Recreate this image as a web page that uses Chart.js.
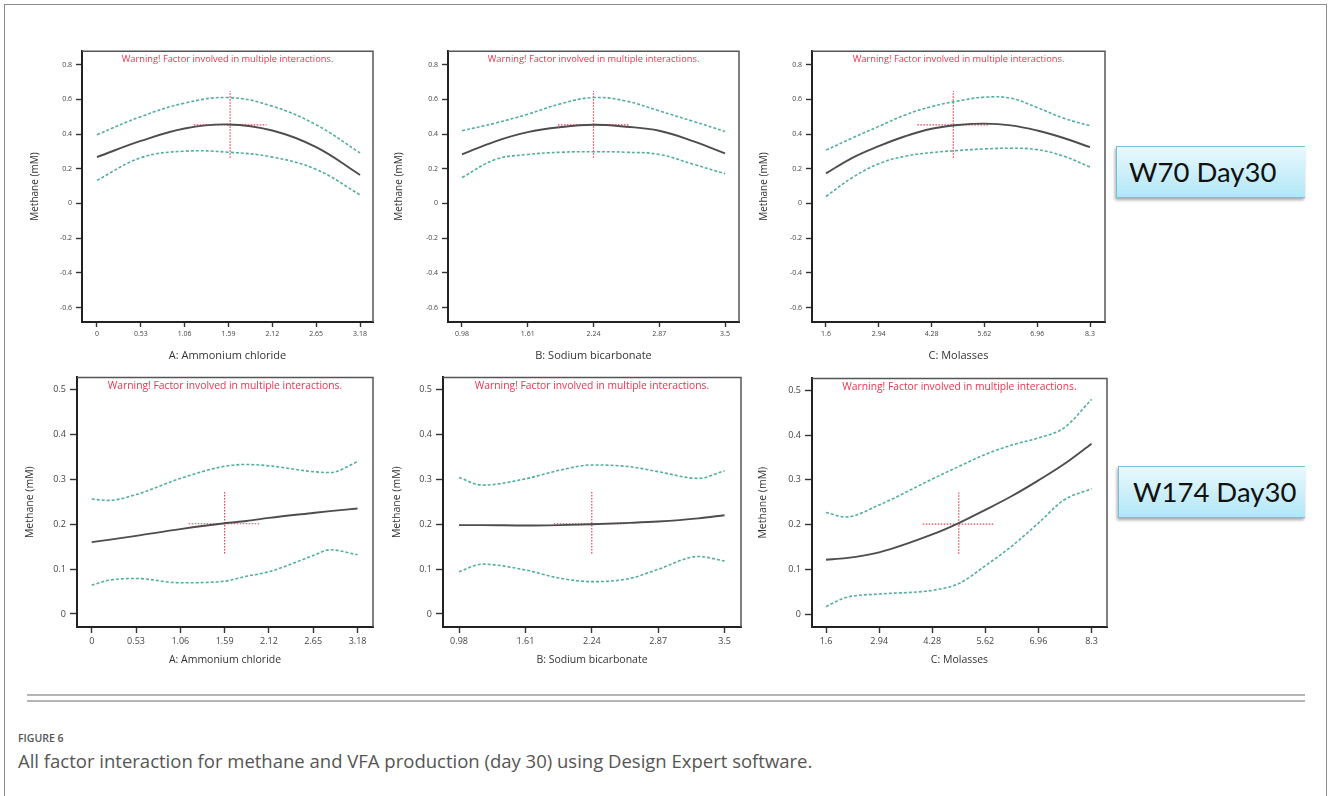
<!DOCTYPE html>
<html>
<head>
<meta charset="utf-8">
<script src="https://cdn.jsdelivr.net/npm/chart.js@4.4.0/dist/chart.umd.min.js"></script>
<style>
body{margin:0;background:#fff;width:1328px;height:796px;overflow:hidden;position:relative;font-family:"Open Sans",sans-serif;}
#frame{position:absolute;left:4px;top:4px;width:1321px;height:830px;border:1px solid #8c8c8c;border-bottom:none;}
canvas{position:absolute;}
.tag{position:absolute;height:52px;box-sizing:border-box;background:linear-gradient(#e9f9fe,#b2e6f6);border:1px solid #74c2da;border-right:none;box-shadow:-1px 2px 3px rgba(0,0,0,0.35);font-family:Lato,sans-serif;font-size:27.5px;color:#111;line-height:50px;padding-left:12px;white-space:nowrap;}
.rule{position:absolute;left:27px;width:1278px;height:2px;background:#b4b4b4;}
#figno{position:absolute;left:18px;top:731px;font-size:10.5px;font-weight:600;color:#555;}
#cap{position:absolute;left:18px;top:748px;font-size:18.5px;color:#555;}
</style>
</head>
<body>
<div id="frame"></div>
<div class="tag" style="left:1116px;top:146px;width:189px;">W70 Day30</div>
<div class="tag" style="left:1118px;top:466px;width:187px;padding-left:14px;">W174 Day30</div>
<div class="rule" style="top:694px;"></div>
<div class="rule" style="top:700px;"></div>
<div id="figno">FIGURE 6</div>
<div id="cap">All factor interaction for methane and VFA production (day 30) using Design Expert software.</div>

<script>
// tick labels
var ticksA = [0, 0.53, 1.06, 1.59, 2.12, 2.65, 3.18];
var ticksB = [0.98, 1.61, 2.24, 2.87, 3.5];
var ticksC = [1.6, 2.94, 4.28, 5.62, 6.96, 8.3];
var ticksY70 = [-0.6, -0.4, -0.2, 0, 0.2, 0.4, 0.6, 0.8];
var ticksY174 = [0, 0.1, 0.2, 0.3, 0.4, 0.5];

var factorNames = ["A: Ammonium chloride", "B: Sodium bicarbonate", "C: Molasses"];
var warning = "Warning! Factor involved in multiple interactions.";

// W70 Day30
var w70A_x     = [0, 0.53, 1.06, 1.59, 2.12, 2.65, 3.18];
var w70A_mean  = [0.267, 0.36, 0.432, 0.455, 0.42, 0.324, 0.164];
var w70A_upper = [0.396, 0.50, 0.578, 0.61, 0.56, 0.453, 0.291];
var w70A_lower = [0.133, 0.263, 0.301, 0.295, 0.267, 0.196, 0.05];

var w70B_x     = [0.98, 1.3, 1.61, 1.93, 2.24, 2.55, 2.87, 3.2, 3.5];
var w70B_mean  = [0.282, 0.358, 0.411, 0.44, 0.453, 0.442, 0.419, 0.358, 0.288];
var w70B_upper = [0.419, 0.463, 0.514, 0.575, 0.61, 0.59, 0.533, 0.472, 0.415];
var w70B_lower = [0.149, 0.253, 0.282, 0.295, 0.298, 0.295, 0.282, 0.225, 0.171];

var w70C_x     = [1.6, 2.27, 2.94, 3.61, 4.28, 4.95, 5.62, 6.29, 6.96, 7.63, 8.3];
var w70C_mean  = [0.173, 0.263, 0.33, 0.387, 0.43, 0.452, 0.46, 0.45, 0.42, 0.377, 0.324];
var w70C_upper = [0.307, 0.377, 0.444, 0.51, 0.558, 0.59, 0.612, 0.606, 0.552, 0.491, 0.448];
var w70C_lower = [0.04, 0.149, 0.229, 0.272, 0.293, 0.305, 0.314, 0.318, 0.31, 0.272, 0.21];

// W174 Day30
var w174A_x     = [0, 0.2, 0.53, 1.06, 1.59, 1.85, 2.12, 2.65, 2.85, 3.18];
var w174A_mean  = [0.16, 0.165, 0.174, 0.189, 0.202, 0.207, 0.214, 0.225, 0.229, 0.235];
var w174A_upper = [0.256, 0.253, 0.266, 0.302, 0.329, 0.333, 0.33, 0.317, 0.315, 0.339];
var w174A_lower = [0.064, 0.075, 0.079, 0.0695, 0.073, 0.084, 0.094, 0.13, 0.143, 0.132];

var w174B_x     = [0.98, 1.2, 1.61, 1.93, 2.24, 2.6, 2.87, 3.25, 3.5];
var w174B_mean  = [0.198, 0.198, 0.197, 0.198, 0.2, 0.203, 0.206, 0.213, 0.22];
var w174B_upper = [0.304, 0.287, 0.301, 0.32, 0.332, 0.328, 0.317, 0.302, 0.319];
var w174B_lower = [0.094, 0.111, 0.098, 0.08, 0.072, 0.079, 0.0996, 0.128, 0.118];

var w174C_x     = [1.6, 2.1, 2.94, 4.28, 4.95, 5.62, 6.29, 6.96, 7.6, 8.3];
var w174C_mean  = [0.1215, 0.125, 0.138, 0.178, 0.2035, 0.233, 0.264, 0.299, 0.335, 0.381];
var w174C_upper = [0.227, 0.217, 0.244, 0.302, 0.33, 0.357, 0.378, 0.394, 0.416, 0.48];
var w174C_lower = [0.017, 0.037, 0.0447, 0.053, 0.068, 0.108, 0.152, 0.2035, 0.255, 0.28];

// red crosshair: factor setting and predicted value
var w70_crossX   = [1.61, 2.24, 4.83];
var w70_crossY   = [0.453, 0.453, 0.453];
var w70_crossV   = [0.263, 0.648];
var w70_crossH   = [[1.17, 2.05], [1.90, 2.58], [3.92, 5.75]];
var w174_crossX  = [1.59, 2.24, 4.95];
var w174_crossY  = [0.201, 0.201, 0.201];
var w174_crossV  = [0.135, 0.272];
var w174_crossH  = [[1.16, 2.02], [1.88, 2.57], [4.04, 5.85]];

function pts(xs, ys) {
  return xs.map(function (x, i) { return {x: x, y: ys[i]}; });
}

// top/right box edge and the warning line inside the plot
var boxPlugin = {
  id: 'box',
  afterDraw: function (chart, args, o) {
    var ctx = chart.ctx, a = chart.chartArea;
    ctx.save();
    ctx.strokeStyle = '#555';
    ctx.lineWidth = 1.5;
    ctx.beginPath();
    ctx.moveTo(a.left, a.top);
    ctx.lineTo(a.right, a.top);
    ctx.lineTo(a.right, a.bottom);
    ctx.stroke();
    ctx.fillStyle = '#e8354f';
    ctx.font = o.size + 'px "Open Sans"';
    ctx.textAlign = 'center';
    ctx.textBaseline = 'middle';
    ctx.fillText(warning, (a.left + a.right) / 2, a.top + o.dy);
    ctx.restore();
  }
};

var rows = {
  w70:  {ticksY: ticksY70, ymin: -0.683, ymax: 0.877, tick: 7, ytitle: 10, xtitle: 11, warn: 9.3, dy: 8, tlen: 6, interp: 'default',
         crossX: w70_crossX, crossY: w70_crossY, crossV: w70_crossV, crossH: w70_crossH},
  w174: {ticksY: ticksY174, ymin: -0.029, ymax: 0.527, tick: 9, ytitle: 10.5, xtitle: 10.5, warn: 10.3, dy: 9, tlen: 7, interp: 'monotone',
         crossX: w174_crossX, crossY: w174_crossY, crossV: w174_crossV, crossH: w174_crossH}
};

var panels = [
  {row: 'w70', f: 0, x: w70A_x, mean: w70A_mean, up: w70A_upper, lo: w70A_lower, ticks: ticksA, xmin: -0.181, xmax: 3.337, box: [82, 49, 373, 322], ytx: 35, xty: 355},
  {row: 'w70', f: 1, x: w70B_x, mean: w70B_mean, up: w70B_upper, lo: w70B_lower, ticks: ticksB, xmin: 0.846, xmax: 3.634, box: [448, 49, 739, 322], ytx: 399, xty: 355},
  {row: 'w70', f: 2, x: w70C_x, mean: w70C_mean, up: w70C_upper, lo: w70C_lower, ticks: ticksC, xmin: 1.245, xmax: 8.68, box: [812, 49, 1105, 322], ytx: 764, xty: 355},
  {row: 'w174', f: 0, x: w174A_x, mean: w174A_mean, up: w174A_upper, lo: w174A_lower, ticks: ticksA, xmin: -0.176, xmax: 3.365, box: [77, 374, 373, 627], ytx: 30, xty: 660},
  {row: 'w174', f: 1, x: w174B_x, mean: w174B_mean, up: w174B_upper, lo: w174B_lower, ticks: ticksB, xmin: 0.828, xmax: 3.656, box: [443, 374, 741, 627], ytx: 397, xty: 660},
  {row: 'w174', f: 2, x: w174C_x, mean: w174C_mean, up: w174C_upper, lo: w174C_lower, ticks: ticksC, xmin: 1.246, xmax: 8.69, box: [812, 375, 1107, 627], ytx: 763, xty: 660}
];

var tickFont = '"Open Sans"';

panels.forEach(function (p) {
  var r = rows[p.row];
  var b = p.box;
  var padT = 6, padR = 6;
  var cl = Math.round(p.ytx - r.ytitle * 0.6);
  var cb = Math.round(p.xty + r.xtitle * 0.6);
  var yw = b[0] - cl, xh = cb - b[3];
  var cv = document.createElement('canvas');
  cv.width = b[2] + padR - cl;
  cv.height = cb - (b[1] - padT);
  cv.style.left = cl + 'px';
  cv.style.top = (b[1] - padT) + 'px';
  document.body.appendChild(cv);

  var cx = r.crossX[p.f], cy = r.crossY[p.f];
  var teal = '#52aea0';
  var curve = {cubicInterpolationMode: r.interp, tension: 0.4};
  new Chart(cv, {
    type: 'line',
    data: {
      datasets: [
        Object.assign({data: pts(p.x, p.up), borderColor: teal, borderWidth: 1.6, borderDash: [3, 2]}, curve),
        Object.assign({data: pts(p.x, p.lo), borderColor: teal, borderWidth: 1.6, borderDash: [3, 2]}, curve),
        Object.assign({data: pts(p.x, p.mean), borderColor: '#4d4d4d', borderWidth: 1.9}, curve),
        {data: [{x: cx, y: r.crossV[0]}, {x: cx, y: r.crossV[1]}], borderColor: '#ec3d55', borderWidth: 1.2, borderDash: [1.5, 1.5]},
        {data: [{x: r.crossH[p.f][0], y: cy}, {x: r.crossH[p.f][1], y: cy}], borderColor: '#ec3d55', borderWidth: 1.2, borderDash: [1.5, 1.5]}
      ]
    },
    options: {
      responsive: false,
      animation: false,
      events: [],
      elements: {point: {radius: 0}},
      layout: {padding: {left: 0, top: padT, right: padR, bottom: 0}},
      plugins: {
        legend: {display: false},
        tooltip: {enabled: false},
        box: {size: r.warn, dy: r.dy}
      },
      scales: {
        x: {
          type: 'linear', min: p.xmin, max: p.xmax,
          afterFit: function (s) { s.height = xh; },
          afterBuildTicks: function (s) { s.ticks = p.ticks.map(function (v) { return {value: v}; }); },
          ticks: {autoSkip: false, maxRotation: 0, padding: 3, color: '#444', font: {family: tickFont, size: r.tick},
                  callback: function (v) { return String(v); }},
          grid: {drawOnChartArea: false, tickLength: r.tlen - 1, tickWidth: 1.4, tickColor: '#333'},
          border: {display: true, color: '#222', width: 2},
          title: {display: true, text: factorNames[p.f], color: '#333', padding: 0, font: {family: tickFont, size: r.xtitle}}
        },
        y: {
          min: r.ymin, max: r.ymax,
          afterFit: function (s) { s.width = yw; },
          afterBuildTicks: function (s) { s.ticks = r.ticksY.map(function (v) { return {value: v}; }); },
          ticks: {autoSkip: false, padding: 4, color: '#444', font: {family: tickFont, size: r.tick},
                  callback: function (v) { return String(v); }},
          grid: {drawOnChartArea: false, tickLength: r.tlen, tickWidth: 1.4, tickColor: '#333'},
          border: {display: true, color: '#222', width: 2},
          title: {display: true, text: 'Methane (mM)', color: '#333', padding: 0, font: {family: tickFont, size: r.ytitle}}
        }
      }
    },
    plugins: [boxPlugin]
  });
});
</script>
</body>
</html>
